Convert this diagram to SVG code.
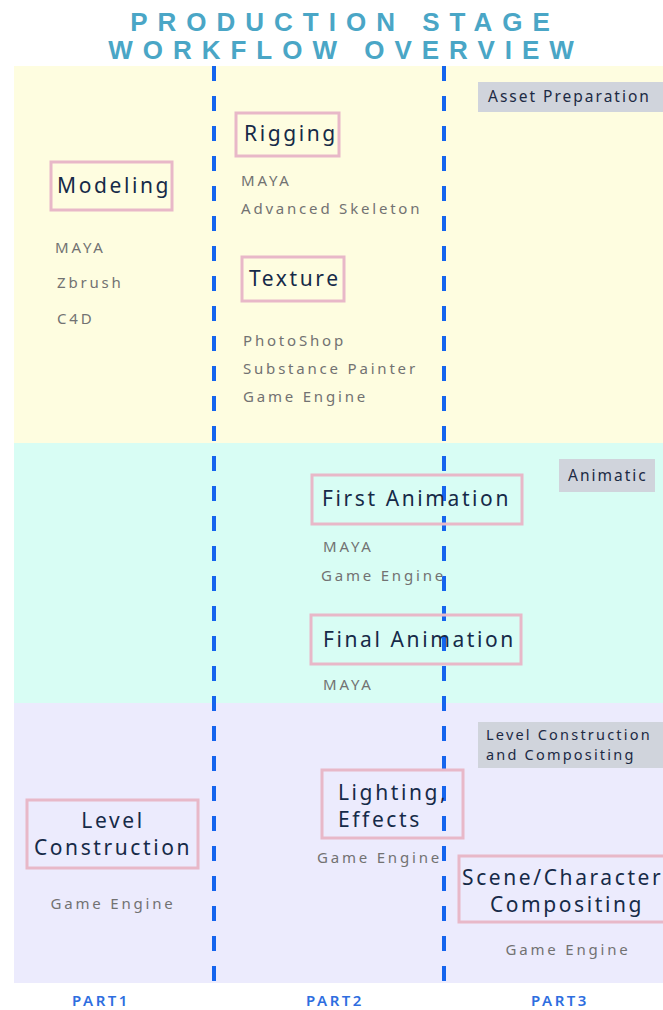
<svg xmlns="http://www.w3.org/2000/svg" width="663" height="1010" viewBox="0 0 663 1010">
<style>
.title{font-family:"Liberation Sans",Arial,sans-serif;font-weight:bold;font-size:26px;fill:#4aa6c6;letter-spacing:10px;text-anchor:middle}
.box{fill:none;stroke:#e8b8c8;stroke-width:3}
.nl{font-family:"Noto Sans","Open Sans",sans-serif;font-size:21px;fill:#162a48;letter-spacing:2.6px}
.tool{font-family:"Noto Sans","Open Sans",sans-serif;font-size:15px;fill:#727272;letter-spacing:2.8px}
.tag{fill:#d0d4dc}
.tagt{font-family:"Noto Sans","Open Sans",sans-serif;font-size:15.5px;fill:#1c2a44;letter-spacing:2px}
.tags{font-size:14.5px;letter-spacing:2.2px}
.part{font-family:"Noto Sans","Open Sans",sans-serif;font-size:15px;font-weight:600;fill:#2e6ee0;letter-spacing:2.5px}
.dash{stroke:#1565ee;stroke-width:4;stroke-dasharray:15 15;fill:none}
</style>
<rect width="663" height="1010" fill="#ffffff"/>
<text class="title" x="345" y="31">PRODUCTION STAGE</text>
<text class="title" x="346" y="59">WORKFLOW OVERVIEW</text>
<g id="bands">
<rect x="14" y="66" width="649" height="377" fill="#fefde0"/>
<rect x="14" y="443" width="649" height="260" fill="#d8fdf4"/>
<rect x="14" y="703" width="649" height="280" fill="#ecebfd"/>
</g>
<g id="connectors">
<line class="dash" x1="214" y1="66" x2="214" y2="983"/>
<line class="dash" x1="444" y1="66" x2="444" y2="983"/>
</g>
<g id="tag-asset"><rect class="tag" x="478" y="82" width="185" height="30"/><text class="tagt" x="488" y="102">Asset Preparation</text></g>
<g id="tag-animatic"><rect class="tag" x="559" y="459" width="96" height="33"/><text class="tagt" x="568" y="481">Animatic</text></g>
<g id="tag-level"><rect class="tag" x="478" y="722" width="185" height="46"/><text class="tagt tags" x="486" y="740">Level Construction</text><text class="tagt tags" x="486" y="760">and Compositing</text></g>
<g id="modeling"><rect class="box" x="51" y="162" width="121" height="48"/><text class="nl" x="57" y="193">Modeling</text>
<text class="tool" x="55" y="253">MAYA</text><text class="tool" x="57" y="288">Zbrush</text><text class="tool" x="57" y="324">C4D</text></g>
<g id="rigging"><rect class="box" x="236" y="113" width="103" height="43"/><text class="nl" x="244" y="141">Rigging</text>
<text class="tool" x="241" y="186">MAYA</text><text class="tool" x="241" y="214">Advanced Skeleton</text></g>
<g id="texture"><rect class="box" x="242" y="257" width="102" height="44"/><text class="nl" x="249" y="286">Texture</text>
<text class="tool" x="243" y="346">PhotoShop</text><text class="tool" x="243" y="374">Substance Painter</text><text class="tool" x="243" y="402">Game Engine</text></g>
<g id="first-animation"><rect class="box" x="312" y="475" width="210" height="49"/><text class="nl" x="322" y="506">First Animation</text>
<text class="tool" x="323" y="552">MAYA</text><text class="tool" x="321" y="581">Game Engine</text></g>
<g id="final-animation"><rect class="box" x="311" y="615" width="210" height="49"/><text class="nl" x="323" y="647">Final Animation</text>
<text class="tool" x="323" y="690">MAYA</text></g>
<g id="level-construction"><rect class="box" x="27" y="800" width="171" height="68"/><text class="nl" x="113" y="828" text-anchor="middle">Level</text><text class="nl" x="113" y="855" text-anchor="middle">Construction</text>
<text class="tool" x="113" y="909" text-anchor="middle">Game Engine</text></g>
<g id="lighting"><rect class="box" x="322" y="770" width="141" height="68"/><text class="nl" x="338" y="800">Lighting,</text><text class="nl" x="338" y="827">Effects</text>
<text class="tool" x="317" y="863">Game Engine</text></g>
<g id="compositing"><rect class="box" x="459" y="856" width="210" height="66"/><text class="nl" x="462" y="885">Scene/Character</text><text class="nl" x="567" y="912" text-anchor="middle">Compositing</text>
<text class="tool" x="568" y="955" text-anchor="middle">Game Engine</text></g>
<g id="parts"><text class="part" x="101" y="1006" text-anchor="middle">PART1</text><text class="part" x="335" y="1006" text-anchor="middle">PART2</text><text class="part" x="560" y="1006" text-anchor="middle">PART3</text></g>
</svg>
